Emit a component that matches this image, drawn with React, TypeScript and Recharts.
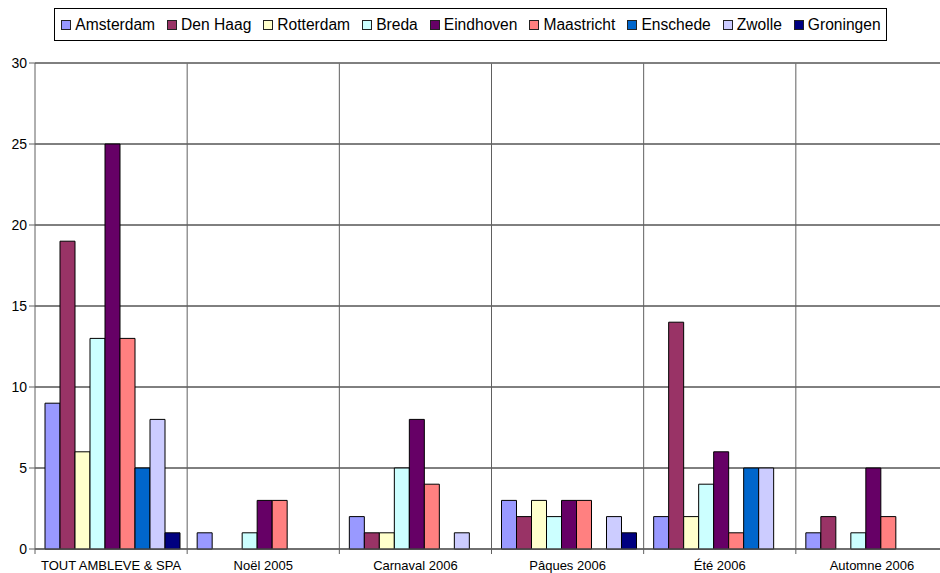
import React from 'react'
import { Bar, BarChart, CartesianGrid, Legend, ReferenceLine, XAxis, YAxis } from 'recharts'

const periods = ['TOUT AMBLEVE & SPA', 'Noël 2005', 'Carnaval 2006', 'Pâques 2006', 'Été 2006', 'Automne 2006']

const cities = ['Amsterdam', 'Den Haag', 'Rotterdam', 'Breda', 'Eindhoven', 'Maastricht', 'Enschede', 'Zwolle', 'Groningen']
const colors = ['#9999FF', '#993366', '#FFFFCC', '#CCFFFF', '#660066', '#FF8080', '#0066CC', '#CCCCFF', '#000080']

const amsterdam = [9, 1, 2, 3, 2, 1]
const denHaag = [19, 0, 1, 2, 14, 2]
const rotterdam = [6, 0, 1, 3, 2, 0]
const breda = [13, 1, 5, 2, 4, 1]
const eindhoven = [25, 3, 8, 3, 6, 5]
const maastricht = [13, 3, 4, 3, 1, 2]
const enschede = [5, 0, 0, 0, 5, 0]
const zwolle = [8, 0, 1, 2, 5, 0]
const groningen = [1, 0, 0, 1, 0, 0]

const yTicks = [0, 5, 10, 15, 20, 25, 30]

const seriesValues = [amsterdam, denHaag, rotterdam, breda, eindhoven, maastricht, enschede, zwolle, groningen]

const data = periods.map((name, i) => {
  const row: Record<string, string | number> = { name }
  cities.forEach((c, j) => {
    row[c] = seriesValues[j][i]
  })
  return row
})

const FONT = 'Arial, "Liberation Sans", sans-serif'

function LegendBox() {
  return (
    <div style={{ display: 'flex', justifyContent: 'center', width: 941 }}>
      <div
        style={{
          display: 'flex',
          alignItems: 'center',
          border: '1px solid #000',
          height: 33,
          padding: '0 5px 0 6px',
          fontFamily: FONT,
          fontSize: 15.6,
          color: '#000',
          background: '#fff',
          boxSizing: 'border-box',
        }}
      >
        {cities.map((c, i) => (
          <span key={c} style={{ display: 'flex', alignItems: 'center', marginRight: i === cities.length - 1 ? 0 : 12 }}>
            <span
              style={{
                display: 'inline-block',
                width: 8,
                height: 8,
                border: '1px solid #222',
                background: colors[i],
                marginRight: 4,
              }}
            />
            {c}
          </span>
        ))}
      </div>
    </div>
  )
}

function PeriodTick(props: any) {
  const { x, y, payload } = props
  const half = payload?.offset ?? 76
  return (
    <g>
      <line x1={x - half} x2={x - half} y1={y} y2={y + 5} stroke="#606060" />
      <text x={x} y={y + 18} textAnchor="middle" dominantBaseline="middle" fontSize={13} fontFamily={FONT} fill="#000">
        {payload.value}
      </text>
    </g>
  )
}

export default function App() {
  return (
    <div style={{ position: 'absolute', left: 0, top: 0, width: 940, height: 573, overflow: 'hidden', background: '#fff' }}>
      <BarChart
        width={950}
        height={590}
        data={data}
        margin={{ top: 63, right: 2, bottom: 11, left: 0 }}
        barGap={0}
        barCategoryGap={10}
      >
        <CartesianGrid vertical={false} stroke="#000" />
        <CartesianGrid
          horizontal={false}
          stroke="#606060"
          verticalCoordinatesGenerator={({ offset }: any) =>
            [1, 2, 3, 4, 5].map((i) => offset.left + (i * offset.width) / 6)
          }
        />
        <ReferenceLine y={30} stroke="#808080" />
        <XAxis
          dataKey="name"
          height={30}
          tickSize={0}
          tickMargin={0}
          tickLine={false}
          axisLine={{ stroke: '#606060' }}
          tick={<PeriodTick />}
          interval={0}
        />
        <YAxis
          width={35}
          domain={[0, 30]}
          ticks={yTicks}
          interval={0}
          axisLine={{ stroke: '#606060' }}
          tickLine={{ stroke: '#606060' }}
          tick={{ fontSize: 14, fontFamily: FONT, fill: '#000' }}
        />
        <Legend
          layout="horizontal"
          verticalAlign="middle"
          align="center"
          wrapperStyle={{ top: 8, left: 0, width: 941 }}
          content={() => <LegendBox />}
        />
        {cities.map((c, i) => (
          <Bar key={c} dataKey={c} fill={colors[i]} stroke="#000" strokeWidth={1} isAnimationActive={false} />
        ))}
      </BarChart>
    </div>
  )
}
